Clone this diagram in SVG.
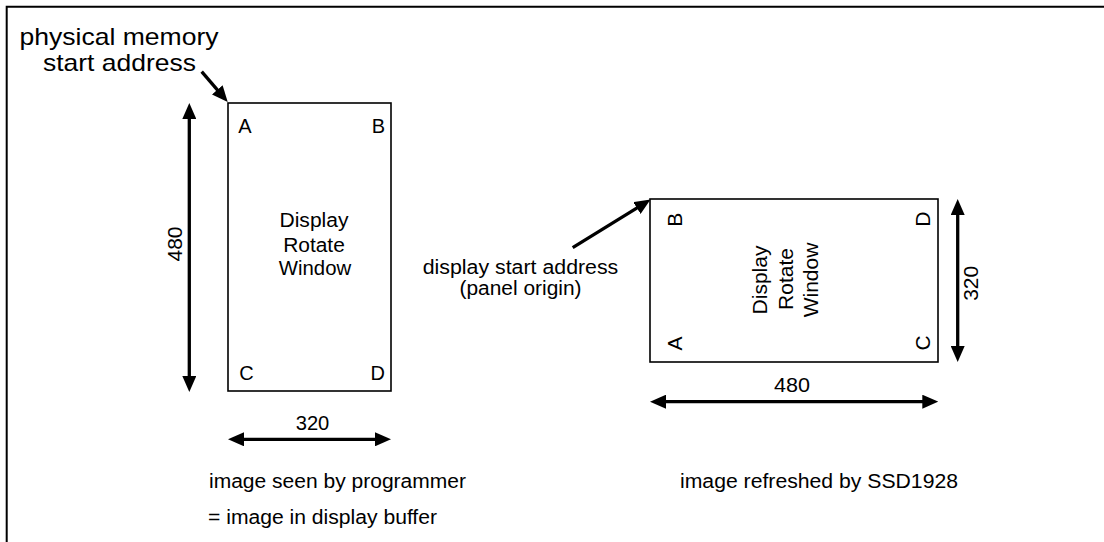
<svg xmlns="http://www.w3.org/2000/svg" width="1104" height="542" viewBox="0 0 1104 542">
<style>
text{font-family:"Liberation Sans",Arial,sans-serif;fill:#000}
.s{font-size:20px}
.r{font-size:21px}
.big{font-size:24px}
.box{fill:#fff;stroke:#000;stroke-width:1.6}
.arr{stroke:#000;stroke-width:3.3;fill:none;marker-end:url(#ah)}
.dim{stroke:#000;stroke-width:3.3;fill:none;marker-start:url(#ah);marker-end:url(#ah)}
</style>
<defs>
<marker id="ah" markerUnits="userSpaceOnUse" markerWidth="16" markerHeight="14" refX="6" refY="7" orient="auto-start-reverse" viewBox="0 0 16 14">
<path d="M0,0 L16,7 L0,14 z" fill="#000"/>
</marker>
</defs>
<rect width="1104" height="542" fill="#fff"/>
<path d="M1104,6.7 H6.7 V542" fill="none" stroke="#000" stroke-width="2"/>

<g id="label-physical">
<text class="big" x="119" y="45" text-anchor="middle" textLength="199" lengthAdjust="spacingAndGlyphs">physical memory</text>
<text class="big" x="119.5" y="71" text-anchor="middle" textLength="153" lengthAdjust="spacingAndGlyphs">start address</text>
</g>

<g id="left-window">
<rect class="box" x="228" y="103" width="163" height="288"/>
<text class="s" x="238.3" y="133.3">A</text>
<text class="s" x="385" y="133.3" text-anchor="end">B</text>
<text class="s" x="239.3" y="380">C</text>
<text class="s" x="385" y="380" text-anchor="end">D</text>
<text class="s" x="314" y="226.7" text-anchor="middle" textLength="69" lengthAdjust="spacingAndGlyphs">Display</text>
<text class="s" x="314" y="251.7" text-anchor="middle" textLength="61.7" lengthAdjust="spacingAndGlyphs">Rotate</text>
<text class="s" x="315" y="275" text-anchor="middle" textLength="72.3" lengthAdjust="spacingAndGlyphs">Window</text>
</g>

<g id="left-dim-480">
<text class="r" transform="translate(182,244) rotate(-90)" text-anchor="middle">480</text>
</g>
<g id="left-dim-320">
<text class="s" x="312.5" y="430" text-anchor="middle" textLength="33.6" lengthAdjust="spacingAndGlyphs">320</text>
</g>

<g id="label-display-start">
<text class="s" x="520.5" y="274" text-anchor="middle" textLength="195.6" lengthAdjust="spacingAndGlyphs">display start address</text>
<text class="s" x="520.5" y="295" text-anchor="middle" textLength="122" lengthAdjust="spacingAndGlyphs">(panel origin)</text>
</g>

<g id="right-window">
<rect class="box" x="650" y="199" width="288" height="163"/>
<text class="r" transform="translate(681.7,226.7) rotate(-90)">B</text>
<text class="r" transform="translate(681.7,350.5) rotate(-90)">A</text>
<text class="r" transform="translate(930,226.7) rotate(-90)">D</text>
<text class="r" transform="translate(930,350.5) rotate(-90)">C</text>
<text class="r" transform="translate(767,280) rotate(-90)" text-anchor="middle">Display</text>
<text class="r" transform="translate(792.5,279) rotate(-90)" text-anchor="middle">Rotate</text>
<text class="r" transform="translate(818,280) rotate(-90)" text-anchor="middle">Window</text>
</g>

<g id="right-dim-320">
<text class="r" transform="translate(978.3,283.3) rotate(-90)" text-anchor="middle">320</text>
</g>
<g id="right-dim-480">
<text class="s" x="792" y="391.7" text-anchor="middle" textLength="36" lengthAdjust="spacingAndGlyphs">480</text>
</g>

<g id="captions">
<text class="s" x="209" y="488" textLength="257" lengthAdjust="spacingAndGlyphs">image seen by programmer</text>
<text class="s" x="208" y="524" textLength="229" lengthAdjust="spacingAndGlyphs">= image in display buffer</text>
<text class="s" x="680" y="488" textLength="278" lengthAdjust="spacingAndGlyphs">image refreshed by SSD1928</text>
</g>

<g id="connectors">
<line class="arr" x1="201.7" y1="71.7" x2="221.2" y2="94.4"/>
<line class="arr" x1="572.7" y1="247.7" x2="642" y2="204.8"/>
<line class="dim" x1="189.3" y1="113" x2="189.3" y2="382"/>
<line class="dim" x1="238" y1="439.3" x2="381" y2="439.3"/>
<line class="dim" x1="957.7" y1="209" x2="957.7" y2="352"/>
<line class="dim" x1="660" y1="401.7" x2="928.3" y2="401.7"/>
</g>
</svg>
